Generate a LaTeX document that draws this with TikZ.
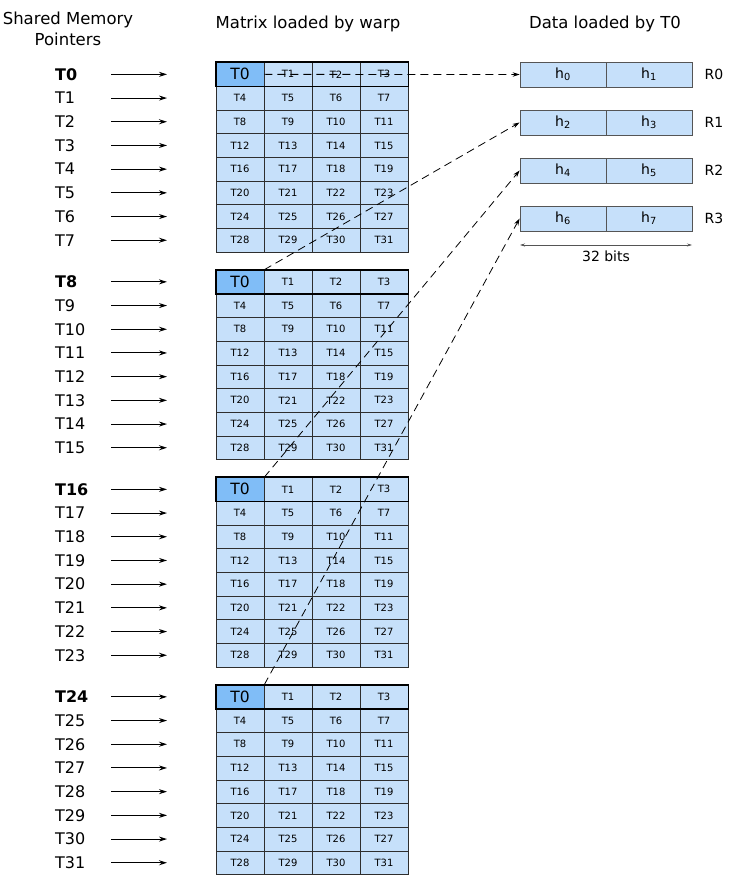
\documentclass[tikz,border=0pt]{standalone}
\usepackage{fontspec}
\setmainfont{DejaVu Sans}
\usetikzlibrary{arrows.meta}
\definecolor{cellblue}{HTML}{C6E0FA}
\definecolor{darkblue}{HTML}{80BDF7}
\definecolor{gridc}{HTML}{2E2E2E}
\definecolor{regc}{HTML}{555555}
\begin{document}
\begin{tikzpicture}[x=1pt,y=-1pt,
  cell/.style={draw=gridc,line width=0.6pt,fill=cellblue,minimum width=48pt,minimum height=23.7pt,inner sep=0pt,font=\fontsize{10}{11}\selectfont},
  cellz/.style={cell,fill=darkblue,font=\fontsize{15.5}{16}\selectfont},
  lab/.style={anchor=west,font=\fontsize{16}{17}\selectfont,inner sep=0pt},
  blab/.style={lab,font=\fontsize{16}{17}\selectfont\bfseries},
  ptr/.style={-{Stealth[length=8pt,width=5pt]},line width=1pt},
  reg/.style={draw=regc,line width=0.8pt,fill=cellblue,minimum width=86pt,minimum height=25pt,inner sep=0pt,font=\fontsize{14}{15}\selectfont},
  rlab/.style={font=\fontsize{14}{15}\selectfont,inner sep=0pt},
  hdr/.style={font=\fontsize{16.5}{21}\selectfont,align=center,inner sep=0pt},
  dsh/.style={dashed,dash pattern=on 8pt off 5pt,line width=0.8pt,-{Stealth[length=7pt,width=4.5pt]}}
]
\useasboundingbox (0,0) rectangle (732,880);
\node[hdr] (h1t) at (68,29) {Shared Memory\\Pointers};
\node[hdr] (h2t) at (308,24) {Matrix loaded by warp};
\node[hdr] (h3t) at (605,24) {Data loaded by T0};
% matrices
\foreach \m in {0,1,2,3}{
  \pgfmathsetmacro{\top}{62.5+\m*207.5}
  \foreach \r in {0,...,7}{
    \foreach \c in {0,...,3}{
      \pgfmathtruncatemacro{\idx}{\r*4+\c}
      \pgfmathsetmacro{\cx}{240+\c*48}
      \pgfmathsetmacro{\cy}{\top+11.85+\r*23.7}
      \ifnum\idx=0
        \node[cellz] (c\m-\idx) at (\cx,\cy) {T0};
      \else
        \node[cell] (c\m-\idx) at (\cx,\cy) {T\idx};
      \fi
    }
    \pgfmathtruncatemacro{\lbl}{\m*8+\r}
    \pgfmathsetmacro{\ly}{\top+11.85+\r*23.7}
    \ifnum\r=0
      \node[blab] (l\lbl) at (55,\ly) {T\lbl};
    \else
      \node[lab] (l\lbl) at (55,\ly) {T\lbl};
    \fi
    \coordinate (as\lbl) at (111,\ly);
    \coordinate (ae\lbl) at (167,\ly);
    \draw[ptr] (as\lbl) -- (ae\lbl);
  }
  \draw[line width=1.6pt] (c\m-0.north west) rectangle (c\m-3.south east);
}
% registers
\foreach \k in {0,1,2,3}{
  \pgfmathsetmacro{\ry}{74.5+\k*48}
  \pgfmathtruncatemacro{\a}{2*\k}
  \pgfmathtruncatemacro{\b}{2*\k+1}
  \node[reg] (h\a) at (563,\ry) {h\textsubscript{\a}};
  \node[reg] (h\b) at (649,\ry) {h\textsubscript{\b}};
  \node[rlab] (R\k) at (714,\ry) {R\k};
}
% size arrow
\coordinate (b1) at (520,245);
\coordinate (b2) at (692,245);
\draw[{Stealth[length=5pt,width=3pt]}-{Stealth[length=5pt,width=3pt]},line width=0.6pt,draw=regc] (b1) -- (b2);
\node[rlab] (bits) at (606,256) {32 bits};
% dashed connectors
\draw[dsh] (c0-0.east) -- (h0.west);
\draw[dsh] (c1-0.north east) -- (h2.west);
\draw[dsh] (c2-0.north east) -- (h4.west);
\draw[dsh] (c3-0.north east) -- (h6.west);
\end{tikzpicture}
\end{document}
